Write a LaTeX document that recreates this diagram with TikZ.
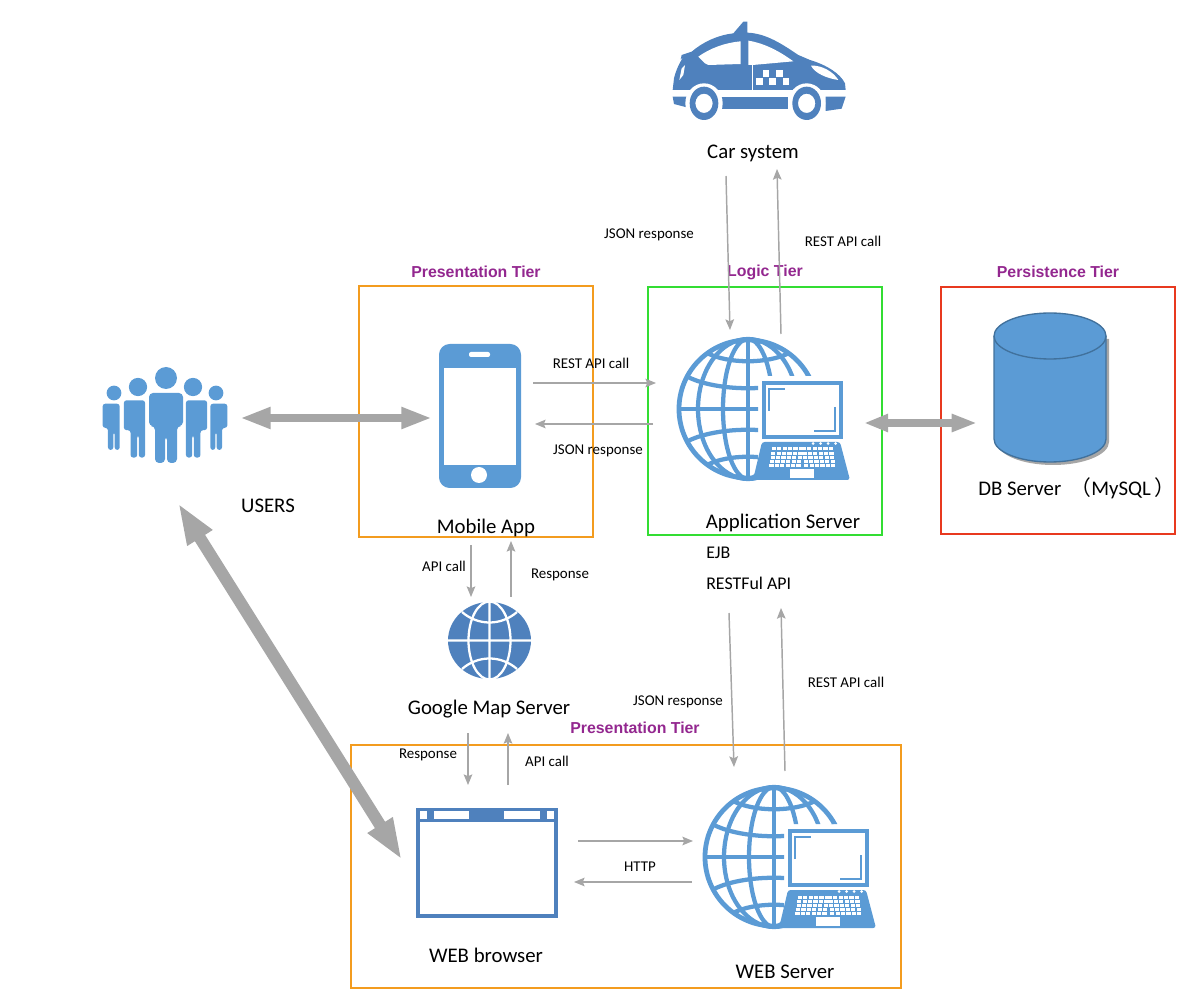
\documentclass[tikz,border=0pt]{standalone}
\usepackage{fontspec}
\setmainfont{Carlito}
\newfontfamily\tierfont{Liberation Sans}
\newfontfamily\cjk{Noto Sans CJK SC}
\usetikzlibrary{arrows.meta,positioning}
\definecolor{iconblue}{HTML}{5B9BD5}
\definecolor{darkblue}{HTML}{4F81BD}
\definecolor{dbedge}{HTML}{41719C}
\definecolor{callgray}{HTML}{A6A6A6}
\definecolor{tierpurple}{HTML}{93278F}
\definecolor{tierorange}{HTML}{F39C1F}
\definecolor{tiergreen}{HTML}{33DD33}
\definecolor{tierred}{HTML}{E8391F}
\tikzset{
  person/.pic={
    \fill[iconblue] (0,0) circle (11);
    \fill[iconblue,rounded corners=3] (-17,48) -- (-17,15) -- (17,15) -- (17,48) -- (11,48) -- (11,85) -- (1,85) -- (1,58)
      -- (-1,58) -- (-1,85) -- (-11,85) -- (-11,48) -- cycle;
  },
  sideperson/.pic={
    \fill[iconblue] (0,0) circle (11);
    \fill[iconblue,rounded corners=2] (-17,52) -- (-17,16) -- (8.5,16) -- (8.5,85) -- (1,85) -- (1,58)
      -- (-1,58) -- (-1,85) -- (-9,85) -- (-9,52) -- cycle;
  },
  netglobe/.pic={
    \begin{scope}
      \clip (-80,-80) -- (80,-80) -- (80,-33) -- (10,-33) -- (10,80) -- (-80,80) -- cycle;
      \draw[iconblue,line width=3.6pt] (0,0) circle (69);
      \draw[iconblue,line width=3.2pt] (0,-70) -- (0,70) (-70,0) -- (70,0);
      \draw[iconblue,line width=3.2pt] (0,0) ellipse (25 and 70) (0,0) ellipse (50 and 70);
      \draw[iconblue,line width=3.2pt] (-60,-32) .. controls (-30,-17) and (30,-17) .. (60,-32);
      \draw[iconblue,line width=3.2pt] (-41,-56) .. controls (-20,-45) and (20,-45) .. (41,-56);
      \draw[iconblue,line width=3.2pt] (-60,32) .. controls (-30,17) and (30,17) .. (60,32);
      \draw[iconblue,line width=3.2pt] (-41,56) .. controls (-20,45) and (20,45) .. (41,56);
    \end{scope}
    \draw[iconblue,line width=2.6pt] (16,-26) rectangle (93,28);
    \draw[iconblue,line width=.8pt] (21,2) -- (21,-20) -- (37,-20) (87,-2) -- (87,22) -- (66,22);
    \fill[iconblue,rounded corners=2] (14,33) -- (92,33) -- (102,71) -- (5,71) -- cycle;
    \foreach \r in {0,...,4}
      \foreach \c in {0,...,11}
        \fill[white] ({22.5+5.4*\c-.6*(\r-2)*(\c<6?1:-1)},{38.5+4.2*\r}) rectangle +(4.2,3);
    \foreach \c in {0,...,3}
      \fill[white] ({65+7.5*\c},34.5) circle (1.5);
    \fill[white] (42,60) rectangle (66,69);
  },
  callarrow/.style={draw=callgray,line width=1.1pt,-{Stealth[length=8pt,width=6.5pt,inset=1.5pt]}},
  userarrow/.style={draw=callgray,line width=6pt,{Stealth[length=23pt,width=15pt,inset=0pt]}-{Stealth[length=23pt,width=15pt,inset=0pt]}},
  dbarrow/.style={draw=callgray,line width=6.5pt,{Stealth[length=18pt,width=12.5pt,inset=0pt]}-{Stealth[length=19pt,width=12.5pt,inset=0pt]}},
  webarrow/.style={draw=callgray,line width=9pt,{Stealth[length=31pt,width=20pt,inset=0pt]}-{Stealth[length=31pt,width=20pt,inset=0pt]}},
  tierbox/.style={draw,line width=1.5pt,inner sep=0pt,fill=none},
  tiertitle/.style={font=\tierfont\bfseries\fontsize{11.9}{14}\selectfont,text=tierpurple,inner sep=0pt},
  bigtext/.style={font=\fontsize{15.6}{18}\selectfont,inner sep=0pt},
  midtext/.style={font=\fontsize{13.4}{16}\selectfont,inner sep=0pt},
  calltext/.style={font=\fontsize{11.2}{13}\selectfont,inner sep=0pt}
}
\begin{document}
\begin{tikzpicture}[x=.75pt,y=-.75pt]
\useasboundingbox (0,0) rectangle (1190,998);
% tier frames
\node[tierbox,draw=tierorange,minimum width=234*.75pt,minimum height=251*.75pt] (mobileTier) at (476,411.5) {};
\node[tierbox,draw=tiergreen,minimum width=234*.75pt,minimum height=248*.75pt] (logicTier) at (765,411) {};
\node[tierbox,draw=tierred,minimum width=234*.75pt,minimum height=247*.75pt] (dbTier) at (1058,410.5) {};
\node[tierbox,draw=tierorange,minimum width=550*.75pt,minimum height=243*.75pt] (webTier) at (626,866.5) {};
\node[tiertitle] (mobileTitle) at (476,272) {Presentation Tier};
\node[tiertitle] (logicTitle) at (765,272) {Logic Tier};
\node[tiertitle] (dbTitle) at (1058,272) {Persistence Tier};
\node[tiertitle] (webTitle) at (635,728) {Presentation Tier};
% car
\begin{scope}[shift={(650,0)},x=.25pt,y=-.25pt]
  \fill[darkblue] (68,270) -- (72,235) .. controls (78,210) and (88,190) .. (100,170) -- (92,178) -- (95,165) -- (125,155)
    .. controls (160,125) and (205,105) .. (250,100) -- (280,65) -- (292,65) -- (292,98) .. controls (350,100) and (400,135) .. (445,165)
    -- (480,180) .. controls (530,195) and (570,220) .. (585,250) -- (587,270) -- cycle;
  \fill[darkblue] (68,290) -- (110,290) -- (110,322) -- (72,312) -- cycle;
  \fill[darkblue] (213,290) rectangle (415,328);
  \fill[darkblue] (527,290) -- (587,290) -- (575,326) -- (527,333) -- cycle;
  \fill[white] (145,170) .. controls (180,145) and (225,128) .. (272,124) -- (272,192) -- (175,195) -- (165,190) -- cycle;
  \fill[white] (295,122) .. controls (345,130) and (390,155) .. (430,184) -- (308,195) -- (295,195) -- cycle;
  \fill[white] (305,195) rectangle (310,270);
  \fill[white] (88,240) -- (95,205) -- (105,195) -- (100,225) -- cycle;
  \fill[white] (483,197) .. controls (515,195) and (550,215) .. (565,240) .. controls (530,235) and (495,220) .. (483,197) -- cycle;
  \foreach \x/\y in {338/210,378/210,318/233,358/233,398/233}
    \fill[white] (\x,\y) rectangle +(20,22);
  \fill[white] (162,310) ellipse (56 and 60) (470,310) ellipse (56 and 60);
  \fill[darkblue,even odd rule] (162,310) ellipse (43 and 50) (162,310) ellipse (26 and 29);
  \fill[darkblue,even odd rule] (470,310) ellipse (43 and 50) (470,310) ellipse (26 and 29);
\end{scope}
\node[bigtext] (carLabel) at (753,153) {Car system};
% users
\pic at (166,378) {person};
\pic[scale=.83] at (138,387) {sideperson};
\pic[scale=.83,xscale=-1] at (193,387) {sideperson};
\pic[scale=.67] at (114,393) {sideperson};
\pic[scale=.67,xscale=-1] at (216,393) {sideperson};
\node[bigtext] (usersLabel) at (268,506) {USERS};
% phone
\fill[iconblue,rounded corners=8pt] (439,344) rectangle (521,488);
\fill[white] (444,368) rectangle (516,465);
\fill[white,rounded corners=1.5pt] (469,352) rectangle (490,357);
\fill[white] (479,475) circle (8);
\node[bigtext] (mobileLabel) at (486,528) {Mobile App};
% servers
\pic at (748,409) {netglobe};
\pic at (774,857) {netglobe};
\node[bigtext] (appLabel) at (783,523) {Application Server};
\node[midtext,anchor=west] (ejbLabel) at (706,553) {EJB};
\node[midtext,anchor=west] (apiLabel) at (706,583) {RESTFul API};
\node[bigtext] (webLabel) at (785,972) {WEB Server};
% database
\fill[callgray] (997,339) -- (997,442) arc[start angle=180,end angle=0,x radius=56,y radius=23] -- (1109,339) -- cycle;
\fill[iconblue,draw=dbedge,line width=1pt] (994,336) -- (994,439) arc[start angle=180,end angle=0,x radius=56,y radius=23]
  -- (1106,336) arc[start angle=0,end angle=-180,x radius=56,y radius=23] -- cycle;
\draw[dbedge,line width=1pt] (994,336) arc[start angle=180,end angle=0,x radius=56,y radius=23];
\node[bigtext,anchor=west] (dbLabel) at (978,488) {DB Server \ {\cjk （}MySQL\,{\cjk ）}};
% google map
\fill[darkblue] (489.5,640.5) ellipse (41.5 and 38.5);
\draw[white,line width=1.7pt] (489.5,600) -- (489.5,681) (446,640.5) -- (533,640.5) (489.5,640.5) ellipse (21 and 39);
\draw[white,line width=1.7pt] (462,612) .. controls (478,626) and (501,626) .. (517,612) (462,669) .. controls (478,655) and (501,655) .. (517,669);
\node[bigtext] (mapLabel) at (489,709) {Google Map Server};
% browser
\draw[darkblue,line width=3pt] (417.5,809.5) rectangle (555.5,916);
\fill[darkblue] (416,808) rectangle (557,822);
\foreach \a/\b in {420/427,434/469,504/540,547/554}
  \fill[white] (\a,811) rectangle (\b,819);
\node[bigtext] (browserLabel) at (486,955) {WEB browser};
% arrow ends
\foreach \n/\x/\y in {carDownA/726/176,carDownB/730/330,carUpA/781/334,carUpB/777/169,
    restA/533/383,restB/656/383,jsonA/653/424,jsonB/535/424,
    mapCallA/471/545,mapCallB/471/597,mapRespA/511/597,mapRespB/511/541,
    browRespA/468/733,browRespB/468/785,browCallA/508/785,browCallB/508/733,
    webJsonA/729/613,webJsonB/734/767,webRestA/785/771,webRestB/781/608,
    httpA/578/841,httpB/693/841,httpC/692/882,httpD/574/882,
    userA/240/418,userB/432/418,dbA/864/423,dbB/977/423,webA/178/503,webB/402/860}
  \coordinate (\n) at (\x,\y);
\draw[callarrow] (carDownA) -- (carDownB);
\draw[callarrow] (carUpA) -- (carUpB);
\draw[callarrow] (restA) -- (restB);
\draw[callarrow] (jsonA) -- (jsonB);
\draw[callarrow] (mapCallA) -- (mapCallB);
\draw[callarrow] (mapRespA) -- (mapRespB);
\draw[callarrow] (browRespA) -- (browRespB);
\draw[callarrow] (browCallA) -- (browCallB);
\draw[callarrow] (webJsonA) -- (webJsonB);
\draw[callarrow] (webRestA) -- (webRestB);
\draw[callarrow] (httpA) -- (httpB);
\draw[callarrow] (httpC) -- (httpD);
\draw[userarrow] (userA) -- (userB);
\draw[dbarrow] (dbA) -- (dbB);
\draw[webarrow] (webA) -- (webB);
% call labels
\node[calltext] (carJson) at (649,235) {JSON response};
\node[calltext] (carRest) at (843,241) {REST API call};
\node[calltext] (appRest) at (591,363) {REST API call};
\node[calltext] (appJson) at (598,451) {JSON response};
\node[calltext] (mapCall) at (444,566) {API call};
\node[calltext] (mapResp) at (560,575) {Response};
\node[calltext] (browResp) at (428,755) {Response};
\node[calltext] (browCall) at (547,761) {API call};
\node[calltext] (webJson) at (678,702) {JSON response};
\node[calltext] (webRest) at (846,682) {REST API call};
\node[calltext] (httpLabel) at (640,867) {HTTP};
\end{tikzpicture}
\end{document}
